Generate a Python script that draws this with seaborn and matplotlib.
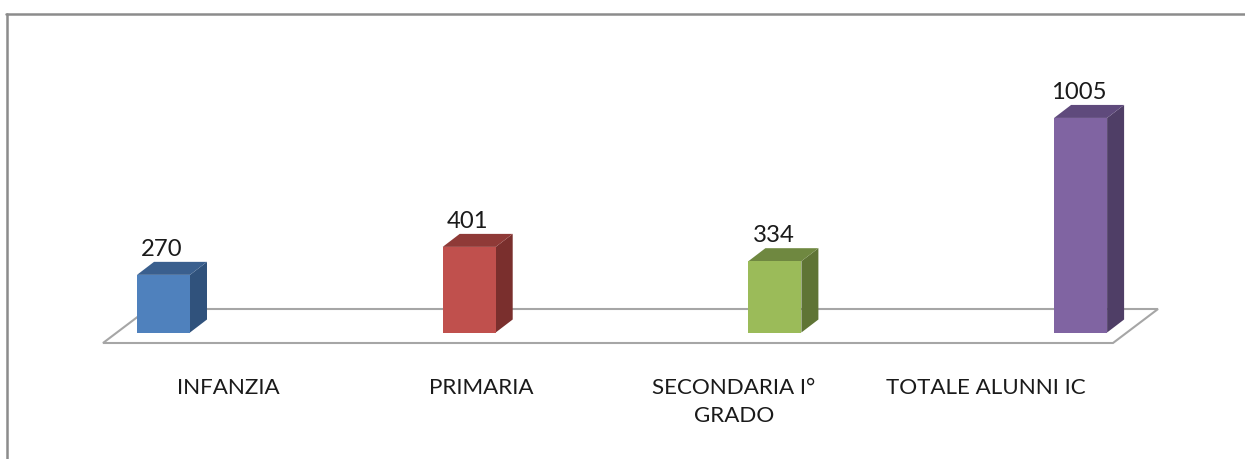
import matplotlib
matplotlib.use("Agg")
import matplotlib.pyplot as plt
from matplotlib.patches import Polygon
import seaborn as sns

categories = ["INFANZIA", "PRIMARIA", "SECONDARIA I°\nGRADO", "TOTALE ALUNNI IC"]
values = [270, 401, 334, 1005]
front_colors = ["#4f81bd", "#c0504d", "#9bbb59", "#8064a2"]
side_colors = ["#30527c", "#7a2f2d", "#5f7435", "#4f3e66"]
top_colors = ["#3a5f8e", "#8f3a37", "#6f8840", "#5f4a7c"]

W, H = 1245, 460
x_scale = 305.7   # px per category
y_scale = 0.2135  # px per unit
base_px = 333.5
first_px = 163.5

sns.set_theme(style="white")
plt.rcParams["font.family"] = ["Lato", "DejaVu Sans"]

fig = plt.figure(figsize=(W / 100, H / 100), dpi=100)
ax = fig.add_axes([0, 0, 1, 1])

sns.barplot(x=categories, y=values, hue=categories, palette=front_colors, legend=False,
            width=53 / x_scale, saturation=1, edgecolor="none", linewidth=0, ax=ax, zorder=3)

ax.set_xlim(-first_px / x_scale, (W - first_px) / x_scale)
ax.set_ylim((base_px - H) / y_scale, base_px / y_scale)
ax.axis("off")

depth_x = 17 / x_scale
depth_y = 13 / y_scale

# floor of the 3d chart
floor_front = -(344 - base_px) / y_scale
floor_back = (base_px - 310) / y_scale
floor_pts = [((103 - first_px) / x_scale, floor_front),
             ((1113 - first_px) / x_scale, floor_front),
             ((1158 - first_px) / x_scale, floor_back),
             ((148 - first_px) / x_scale, floor_back)]
ax.add_patch(Polygon(floor_pts, closed=True, fc="white", ec="#a6a6a6", lw=1.5, zorder=1))

half = 53 / x_scale / 2
for i, v in enumerate(values):
    left, right = i - half, i + half
    ax.add_patch(Polygon([(right, 0), (right + depth_x, depth_y),
                          (right + depth_x, v + depth_y), (right, v)],
                         closed=True, fc=side_colors[i], ec="none", zorder=2))
    ax.add_patch(Polygon([(left, v), (right, v), (right + depth_x, v + depth_y),
                          (left + depth_x, v + depth_y)],
                         closed=True, fc=top_colors[i], ec="none", zorder=2))
    ax.text(i - 1.5 / x_scale, v + depth_y + 3 / y_scale, str(v), ha="center", va="bottom",
            fontsize=17.2, color="#1a1a1a", zorder=4)

label_x = [228, 481, 734, 986]
for name, px in zip(categories, label_x):
    ax.text((px - first_px) / x_scale, (base_px - 378) / y_scale, name, ha="center", va="top",
            fontsize=16.1, color="#1a1a1a", linespacing=1.5)

# outer frame, only left and top are visible
fig.add_artist(plt.Line2D([7 / W, 7 / W], [0, 1 - 15 / H], color="#8c8c8c", lw=1.8))
fig.add_artist(plt.Line2D([6 / W, 1], [1 - 15 / H, 1 - 15 / H], color="#8c8c8c", lw=1.8))

fig.savefig("out.png", dpi=100)
